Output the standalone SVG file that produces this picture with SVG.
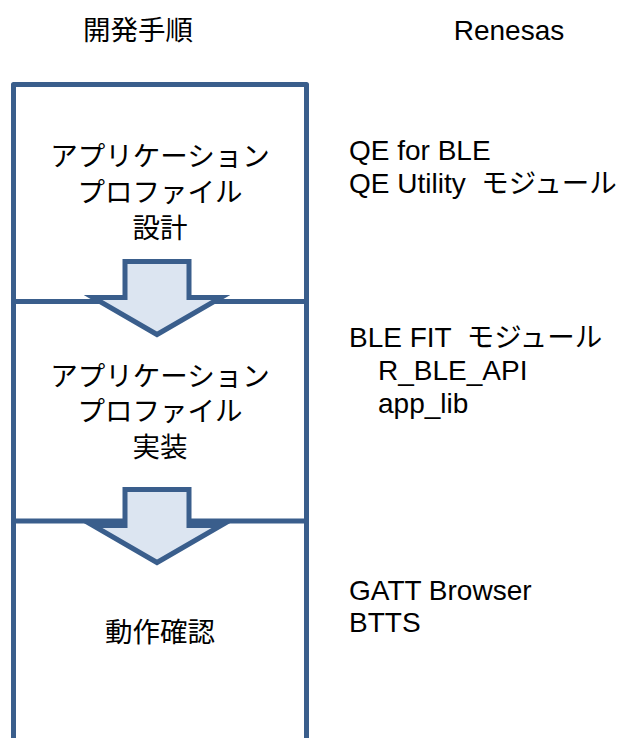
<svg xmlns="http://www.w3.org/2000/svg" width="619" height="738" viewBox="0 0 619 738">
<style>
.frame{fill:none;stroke:#3A5E8C;stroke-width:5;stroke-linejoin:round}
.div{stroke:#3A5E8C;stroke-width:5}
.arrow{fill:#DCE5F1;stroke:#3A5E8C;stroke-width:5;stroke-linejoin:miter}
.jp{font-family:"Noto Sans CJK JP","Liberation Sans",sans-serif;font-size:27.5px;fill:#000;text-anchor:middle}
.en{font-family:"Liberation Sans","Noto Sans CJK JP",sans-serif;font-size:28px;fill:#000;white-space:pre}
.ja{font-family:"Noto Sans CJK JP",sans-serif;font-size:27.5px}
</style>
<rect width="619" height="738" fill="#fff"/>
<g id="headers">
<text class="jp" x="138" y="40">開発手順</text>
<text class="en" x="509" y="40" text-anchor="middle">Renesas</text>
</g>
<g id="frame">
<path class="frame" d="M13.5,745 V84.5 H306.5 V745"/>
<line class="div" x1="13.5" y1="301.5" x2="306.5" y2="301.5"/>
<line class="div" x1="13.5" y1="521" x2="306.5" y2="521"/>
</g>
<g id="node-design">
<text class="jp"><tspan x="160" y="166">アプリケーション</tspan><tspan x="160" y="202">プロファイル</tspan><tspan x="160" y="238">設計</tspan></text>
</g>
<g id="node-impl">
<text class="jp"><tspan x="160" y="386">アプリケーション</tspan><tspan x="160" y="421">プロファイル</tspan><tspan x="160" y="457">実装</tspan></text>
</g>
<g id="node-verify">
<text class="jp" x="160" y="642">動作確認</text>
</g>
<g id="connectors">
<path class="arrow" d="M125,297.5 V261.5 H189 V297.5 H221 L157,334.5 L93,297.5 Z"/>
<path class="arrow" d="M125,525.5 V489.5 H189 V525.5 H221 L157,562.5 L93,525.5 Z"/>
</g>
<g id="renesas-design">
<text class="en" x="349" y="160">QE for BLE</text>
<text class="en" x="349" y="193">QE Utility  <tspan class="ja">モジュール</tspan></text>
</g>
<g id="renesas-impl">
<text class="en" x="349" y="347">BLE FIT  <tspan class="ja">モジュール</tspan></text>
<text class="en" x="378" y="380">R_BLE_API</text>
<text class="en" x="378" y="413">app_lib</text>
</g>
<g id="renesas-verify">
<text class="en" x="349" y="600">GATT Browser</text>
<text class="en" x="349" y="632">BTTS</text>
</g>
</svg>
